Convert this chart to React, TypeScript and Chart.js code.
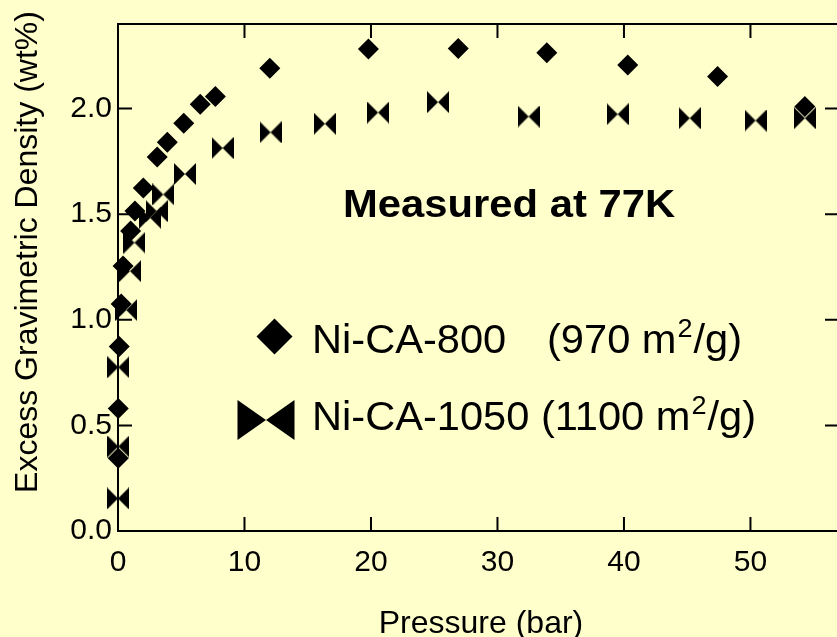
import React, { useEffect, useRef } from 'react';
import { Chart, registerables } from 'chart.js';

Chart.register(...registerables);

// ---- data ----
const xTicks = [0, 10, 20, 30, 40, 50];
const yTicks = [0, 0.5, 1.0, 1.5, 2.0];

const ni800Pressure = [0.02, 0.02, 0.1, 0.25, 0.4, 1.0, 1.34, 2.0, 3.1, 3.9, 5.2, 6.5, 7.7, 12.0, 19.8, 26.9, 33.9, 40.3, 47.4, 54.3];
const ni800Density = [0.344, 0.58, 0.873, 1.075, 1.255, 1.42, 1.515, 1.624, 1.77, 1.84, 1.93, 2.02, 2.057, 2.19, 2.282, 2.284, 2.264, 2.206, 2.151, 2.01];

const ni1050Pressure = [0.0, 0.02, 0.02, 0.65, 0.95, 1.3, 2.53, 3.06, 3.58, 5.29, 8.27, 12.06, 16.35, 20.56, 25.3, 32.46, 39.5, 45.2, 50.4, 54.3];
const ni1050Density = [0.154, 0.40, 0.775, 1.046, 1.23, 1.365, 1.483, 1.514, 1.593, 1.69, 1.813, 1.887, 1.928, 1.981, 2.03, 1.962, 1.973, 1.954, 1.943, 1.954];

const seriesNames = ['Ni-CA-800', 'Ni-CA-1050'];
const surfaceAreas = ['(970 m', '(1100 m'];
const xTitle = 'Pressure (bar)';
const yTitle = 'Excess Gravimetric Density (wt%)';
const noteText = 'Measured at 77K';

const FONT = "'Liberation Sans', Arial, Helvetica, sans-serif";
const BG = '#FFFFCC';

function makeBowtie(w: number, h: number) {
  const c = document.createElement('canvas');
  c.width = w;
  c.height = h;
  const g = c.getContext('2d')!;
  drawBowtie(g, w / 2, h / 2, w, h);
  return c;
}

function drawBowtie(g: CanvasRenderingContext2D, cx: number, cy: number, w: number, h: number) {
  g.save();
  g.fillStyle = '#000';
  g.beginPath();
  g.moveTo(cx - w / 2, cy - h / 2);
  g.lineTo(cx, cy);
  g.lineTo(cx - w / 2, cy + h / 2);
  g.closePath();
  g.fill();
  g.beginPath();
  g.moveTo(cx + w / 2, cy - h / 2);
  g.lineTo(cx, cy);
  g.lineTo(cx + w / 2, cy + h / 2);
  g.closePath();
  g.fill();
  g.restore();
}

function drawDiamond(g: CanvasRenderingContext2D, cx: number, cy: number, r: number) {
  g.save();
  g.fillStyle = '#000';
  g.beginPath();
  g.moveTo(cx - r, cy);
  g.lineTo(cx, cy - r);
  g.lineTo(cx + r, cy);
  g.lineTo(cx, cy + r);
  g.closePath();
  g.fill();
  g.restore();
}

function stretchedText(g: CanvasRenderingContext2D, text: string, x: number, y: number, sx: number) {
  g.save();
  g.translate(x, y);
  g.scale(sx, 1);
  g.fillText(text, 0, 0);
  const w = g.measureText(text).width * sx;
  g.restore();
  return w;
}

const framePlugin = {
  id: 'frameAndText',
  afterDraw(chart: any) {
    const { ctx, chartArea: a, scales } = chart;
    const xs = scales.x;
    const ys = scales.y;
    ctx.save();
    // frame
    ctx.strokeStyle = '#000';
    ctx.lineWidth = 2;
    ctx.strokeRect(a.left, a.top, a.right - a.left, a.bottom - a.top);
    // inward ticks
    const T = 14;
    ctx.beginPath();
    xTicks.forEach((v) => {
      const px = xs.getPixelForValue(v);
      ctx.moveTo(px, a.bottom);
      ctx.lineTo(px, a.bottom - T);
      ctx.moveTo(px, a.top);
      ctx.lineTo(px, a.top + T);
    });
    yTicks.forEach((v) => {
      const py = ys.getPixelForValue(v);
      ctx.moveTo(a.left, py);
      ctx.lineTo(a.left + T, py);
      ctx.moveTo(a.right, py);
      ctx.lineTo(a.right - T, py);
    });
    ctx.stroke();

    ctx.fillStyle = '#000';
    // axis titles
    ctx.font = `32px ${FONT}`;
    ctx.textAlign = 'center';
    ctx.textBaseline = 'alphabetic';
    ctx.fillText(xTitle, 481, 633);
    ctx.save();
    ctx.translate(37, 252);
    ctx.rotate(-Math.PI / 2);
    ctx.fillText(yTitle, 0, 0);
    ctx.restore();

    // note
    ctx.font = `bold 38px ${FONT}`;
    ctx.textAlign = 'left';
    stretchedText(ctx, noteText, 343, 217, 1.1);

    // legend
    const sx = 1.04;
    drawDiamond(ctx, 274.5, 336.5, 18);
    drawBowtie(ctx, 266, 420, 57, 40);
    ctx.font = `40px ${FONT}`;
    stretchedText(ctx, seriesNames[0], 312, 353, sx);
    let w = stretchedText(ctx, surfaceAreas[0], 547, 353, sx);
    ctx.font = `26px ${FONT}`;
    let w2 = stretchedText(ctx, '2', 547 + w + 1, 337, sx);
    ctx.font = `40px ${FONT}`;
    stretchedText(ctx, '/g)', 547 + w + w2 + 2, 353, sx);

    const first = seriesNames[1] + ' ';
    let w3 = stretchedText(ctx, first, 312, 430, sx);
    w = stretchedText(ctx, surfaceAreas[1], 312 + w3, 430, sx);
    ctx.font = `26px ${FONT}`;
    w2 = stretchedText(ctx, '2', 312 + w3 + w + 1, 414, sx);
    ctx.font = `40px ${FONT}`;
    stretchedText(ctx, '/g)', 312 + w3 + w + w2 + 2, 430, sx);

    ctx.restore();
  },
};

export default function App() {
  const ref = useRef<HTMLCanvasElement>(null);

  useEffect(() => {
    if (!ref.current) return;
    const bowtie = makeBowtie(22, 22);
    const chart = new Chart(ref.current, {
      type: 'scatter',
      data: {
        datasets: [
          {
            label: seriesNames[0],
            data: ni800Pressure.map((p, i) => ({ x: p, y: ni800Density[i] })),
            pointStyle: 'rectRot',
            pointRadius: 10.5,
            backgroundColor: '#000',
            borderColor: '#000',
            borderWidth: 0,
            clip: false as any,
          },
          {
            label: seriesNames[1],
            data: ni1050Pressure.map((p, i) => ({ x: p, y: ni1050Density[i] })),
            pointStyle: bowtie as any,
            pointRadius: 11,
            backgroundColor: '#000',
            borderColor: '#000',
            borderWidth: 0,
            clip: false as any,
          },
        ],
      },
      options: {
        responsive: false,
        animation: false,
        events: [],
        layout: { padding: { top: 21, right: 6, left: 0, bottom: 0 } },
        plugins: { legend: { display: false }, tooltip: { enabled: false } },
        scales: {
          x: {
            type: 'linear',
            min: 0,
            max: 57,
            afterBuildTicks: (s: any) => {
              s.ticks = xTicks.map((v) => ({ value: v }));
            },
            afterFit: (s: any) => {
              s.height = 106;
            },
            grid: { display: false, drawTicks: false },
            border: { display: false },
            ticks: {
              font: { family: FONT, size: 30 },
              color: '#000',
              padding: 14,
              maxRotation: 0,
              autoSkip: false,
            },
          },
          y: {
            type: 'linear',
            min: 0,
            max: 2.4,
            afterBuildTicks: (s: any) => {
              s.ticks = yTicks.map((v) => ({ value: v }));
            },
            afterFit: (s: any) => {
              s.width = 118;
            },
            grid: { display: false, drawTicks: false },
            border: { display: false },
            ticks: {
              font: { family: FONT, size: 30 },
              color: '#000',
              padding: 6,
              autoSkip: false,
              callback: (v: any) => Number(v).toFixed(1),
            },
          },
        },
      },
      plugins: [framePlugin],
    });
    return () => chart.destroy();
  }, []);

  return (
    <div
      style={{
        position: 'fixed',
        left: 0,
        top: 0,
        width: 837,
        height: 637,
        overflow: 'hidden',
        background: BG,
      }}
    >
      <canvas ref={ref} width={850} height={637} style={{ display: 'block', width: 850, height: 637 }} />
    </div>
  );
}
